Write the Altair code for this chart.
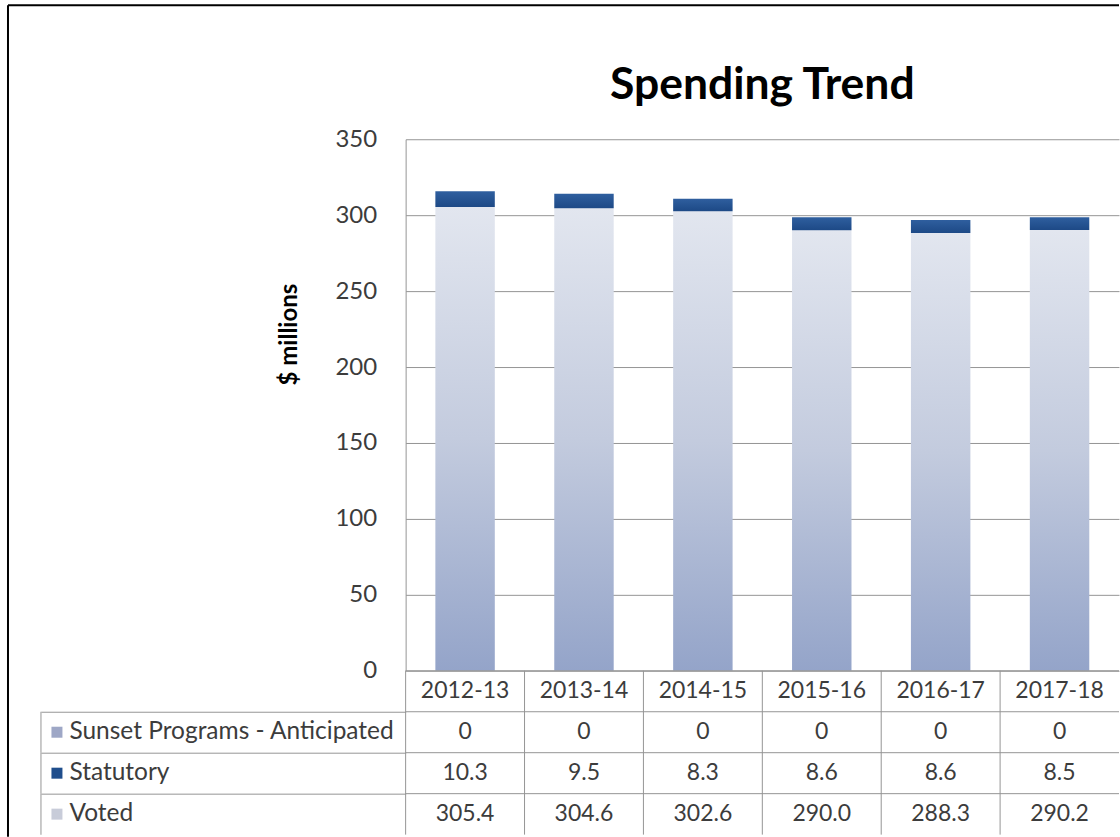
import altair as alt
import pandas as pd

# ---------------- data ----------------
years = ["2012-13", "2013-14", "2014-15", "2015-16", "2016-17", "2017-18"]
sunset = [0, 0, 0, 0, 0, 0]
statutory = [10.3, 9.5, 8.3, 8.6, 8.6, 8.5]
voted = [305.4, 304.6, 302.6, 290.0, 288.3, 290.2]
series_names = ["Sunset Programs - Anticipated", "Statutory", "Voted"]
swatch_colors = ["#9ea7c6", "#1f4e8c", "#c8ccd9"]
y_ticks = [0, 50, 100, 150, 200, 250, 300, 350]
title_text = "Spending Trend"
y_title = "$ millions"
header_key = "Header"

# ---------------- style ----------------
FONT = "Lato"
GRID = "#959595"
TEXT = "#3c3c3c"
W, H = 714, 532
ROW_H = 41
TABLE_H = ROW_H * 4

# ---------------- top: stacked bars ----------------
bars = pd.DataFrame({"year": years, "voted": voted,
                     "statutory": statutory, "sunset": sunset})

x_bar = alt.X("year:N", sort=years,
              scale=alt.Scale(domain=years, paddingInner=0.5, paddingOuter=0.25),
              axis=None)
y_scale = alt.Scale(domain=[0, 350], nice=False, zero=True)
y_axis = alt.Axis(values=y_ticks, title=y_title, grid=True, gridColor=GRID,
                  domain=True, domainColor=GRID, ticks=False, labelPadding=29,
                  labelFontSize=24, labelColor=TEXT, labelFont=FONT,
                  titleFont=FONT, titleFontSize=24, titleFontWeight="bold",
                  titleColor="black", titleX=-116, titleY=195,
                  titleBaseline="middle", titleAlign="center")

grad_voted = alt.Gradient(gradient="linear", x1=0, x2=0, y1=0, y2=1,
                          stops=[alt.GradientStop(color="#e2e6ef", offset=0),
                                 alt.GradientStop(color="#c3cbde", offset=0.5),
                                 alt.GradientStop(color="#94a4c9", offset=1)])
grad_stat = alt.Gradient(gradient="linear", x1=0, x2=0, y1=0, y2=1,
                         stops=[alt.GradientStop(color="#2f5f9f", offset=0),
                                alt.GradientStop(color="#1d4986", offset=1)])

base = alt.Chart(bars)
voted_bar = base.mark_bar(fill=grad_voted).encode(
    x=x_bar, y=alt.Y("voted:Q", scale=y_scale, axis=y_axis))
stat_bar = base.transform_calculate(top="datum.voted + datum.statutory").mark_bar(
    fill=grad_stat).encode(
    x=x_bar, y=alt.Y("voted:Q", scale=y_scale, axis=y_axis), y2="top:Q")
sunset_bar = base.transform_calculate(
    top="datum.voted + datum.statutory",
    top2="datum.voted + datum.statutory + datum.sunset").mark_bar(
    fill=swatch_colors[0]).encode(
    x=x_bar, y=alt.Y("top:Q", scale=y_scale, axis=y_axis), y2="top2:Q")

top = alt.layer(voted_bar, stat_bar, sunset_bar).properties(
    width=W, height=H,
    title=alt.TitleParams(title_text, font=FONT, fontSize=44.5, fontWeight="bold",
                          color="black", anchor="middle", frame="group", offset=19))

# ---------------- bottom: data table ----------------
rows = [header_key] + series_names
rows_df = pd.DataFrame({"row": rows})
years_df = pd.DataFrame({"year": years})
series_df = pd.DataFrame({"row": series_names})

recs = []
for i, yr in enumerate(years):
    recs.append({"year": yr, "row": header_key, "text": yr})
    recs.append({"year": yr, "row": series_names[0], "text": f"{sunset[i]:g}"})
    recs.append({"year": yr, "row": series_names[1], "text": f"{statutory[i]:.1f}"})
    recs.append({"year": yr, "row": series_names[2], "text": f"{voted[i]:.1f}"})
table_df = pd.DataFrame(recs)

row_scale = alt.Scale(domain=rows, paddingInner=0, paddingOuter=0)
col_scale = alt.Scale(domain=years, paddingInner=0, paddingOuter=0)

row_axis = alt.Axis(
    title=None, domain=False, grid=False, bandPosition=0,
    tickSize=365, tickColor=GRID,
    tickOpacity={"condition": {"test": f"datum.value === '{header_key}'", "value": 0},
                 "value": 1},
    labelExpr=f"datum.value === '{header_key}' ? '' : datum.value",
    labelAlign="left", labelBaseline="middle", labelPadding=-28,
    labelLimit=400, labelFontSize=24.5, labelColor=TEXT, labelFont=FONT)

y_row = alt.Y("row:N", sort=rows, scale=row_scale, axis=row_axis)
x_col = alt.X("year:N", sort=years, scale=col_scale, axis=None)

hrules = alt.Chart(rows_df).mark_rule(color=GRID, strokeWidth=1).encode(
    y=alt.Y("row:N", sort=rows, scale=row_scale, bandPosition=0, axis=row_axis))
vrules = alt.Chart(years_df).mark_rule(color=GRID, strokeWidth=1).encode(
    x=alt.X("year:N", sort=years, scale=col_scale, bandPosition=0, axis=None))
swatches = alt.Chart(series_df).mark_square(size=121, opacity=1).encode(
    x=alt.value(-349), y=y_row,
    color=alt.Color("row:N", scale=alt.Scale(domain=series_names, range=swatch_colors),
                    legend=None))
left_border = alt.Chart(series_df).mark_tick(
    orient="vertical", size=ROW_H, thickness=1, color=GRID, opacity=1).encode(
    x=alt.value(-365), y=y_row)
cell_text = alt.Chart(table_df).mark_text(
    font=FONT, fontSize=23, color=TEXT, baseline="middle").encode(
    x=x_col, y=y_row, text="text:N")

frame_df = pd.DataFrame({"k": [0]})
vframe = alt.Chart(frame_df).mark_rule(color="black", strokeWidth=2).encode(
    x=alt.value(-398), y=alt.value(-666), y2=alt.value(166))
hframe = alt.Chart(frame_df).mark_rule(color="black", strokeWidth=2).encode(
    x=alt.value(-398), x2=alt.value(W), y=alt.value(-666))

bottom = alt.layer(hrules, vrules, swatches, left_border, cell_text,
                   vframe, hframe).properties(width=W, height=TABLE_H)

chart = alt.vconcat(top, bottom, spacing=0, bounds="flush").properties(
    padding={"left": 7, "top": 4, "right": 0, "bottom": 0},
    background="white",
).configure(font=FONT, view=alt.ViewConfig(strokeWidth=0))

chart.save("out.html", embed_options={"renderer": "svg", "actions": False})
